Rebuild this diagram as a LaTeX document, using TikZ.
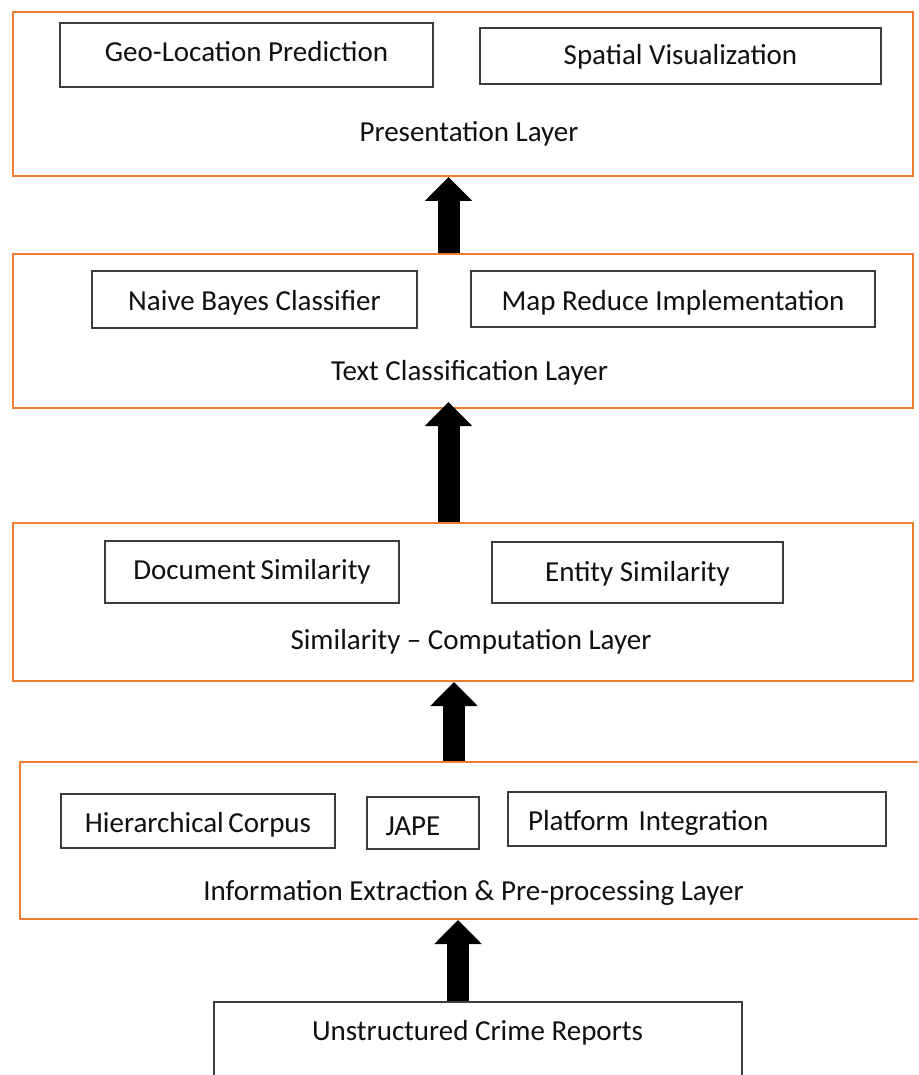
\documentclass[tikz,border=0pt]{standalone}
\usepackage{fontspec}
\setmainfont{Carlito}
\usetikzlibrary{arrows.meta}
\definecolor{layerorange}{HTML}{ED7D31}
\definecolor{boxgray}{HTML}{3C3C3C}
\definecolor{txt}{HTML}{101010}
\begin{document}
\begin{tikzpicture}[x=1pt,y=-1pt,
  layer/.style={draw=layerorange, line width=2pt, rectangle, inner sep=0pt, fill=white},
  ibox/.style={draw=boxgray, line width=1.4pt, rectangle, inner sep=0pt, fill=white, text=txt,
               font=\fontsize{29}{34}\selectfont, text depth=0pt},
  title/.style={anchor=base, inner sep=0pt, text=txt, font=\fontsize{29}{34}\selectfont},
  bigarrow/.style={black, line width=22pt, -{Triangle[width=46pt,length=24pt]}}]
\useasboundingbox (0,0) rectangle (918,1075);
\clip (0,0) rectangle (918,1075);
\fill[white] (0,0) rectangle (918,1075);

% layers
\node[layer, minimum width=900pt, minimum height=164pt] (pres) at (463,94) {};
\node[layer, minimum width=900pt, minimum height=154pt] (tc) at (463,331) {};
\node[layer, minimum width=900pt, minimum height=158pt] (sim) at (463,602) {};
\node[layer, minimum width=906pt, minimum height=157pt] (info) at (473,840.5) {};
\node[ibox, minimum width=528pt, minimum height=80pt] (src) at (478,1042) {};

% presentation layer
\node[ibox, minimum width=373pt, minimum height=64pt, text height=14pt] (geo) at (246.5,55) {Geo-Location Prediction};
\node[ibox, minimum width=401pt, minimum height=56pt, text height=18pt] (spat) at (680.5,56) {Spatial Visualization};
\node[title] (presT) at (469,142) {Presentation Layer};

% text classification layer
\node[ibox, minimum width=325pt, minimum height=57pt, text height=21pt] (nb) at (254.5,299.5) {Naive Bayes Classifier};
\node[ibox, minimum width=404pt, minimum height=56pt, text height=22pt] (mr) at (673,299) {Map Reduce Implementation};
\node[title] (tcT) at (469.5,380) {Text Classification Layer};

% similarity layer
\node[ibox, minimum width=294pt, minimum height=62pt, text height=15pt] (doc) at (252,572) {Document\hspace{-2pt} Similarity};
\node[ibox, minimum width=291pt, minimum height=61pt, text height=17pt] (ent) at (637.5,572.5) {Entity Similarity};
\node[title] (simT) at (471,649) {Similarity – Computation Layer};

% information extraction layer
\node[ibox, minimum width=274pt, minimum height=54pt, text height=22pt] (hier) at (198,821) {Hierarchical\hspace{-2pt} Corpus};
\node[ibox, minimum width=112pt, minimum height=52pt, text height=24pt] (jape) at (423,823) {\hspace*{-20pt}JAPE};
\node[ibox, minimum width=378pt, minimum height=54pt, text height=22pt, inner xsep=20pt, text width=338pt, align=left] (plat) at (697,819) {Platform Integration};
\node[title] (infoT) at (473.5,900) {Information Extraction \& Pre-processing Layer};

% source
\node[title] (srcT) at (477.5,1040) {Unstructured Crime Reports};

% arrows
\draw[bigarrow] ([xshift=-14.5pt]tc.north) -- ([xshift=-14.5pt]pres.south);
\draw[bigarrow, shorten >=-7pt] ([xshift=-14.5pt]sim.north) -- ([xshift=-14.5pt]tc.south);
\draw[bigarrow] ([xshift=-9pt]sim.south |- info.north) -- ([xshift=-9pt]sim.south);
\draw[bigarrow] ([xshift=-20pt]src.north) -- ([xshift=-20pt]src.north |- info.south);
\end{tikzpicture}
\end{document}
